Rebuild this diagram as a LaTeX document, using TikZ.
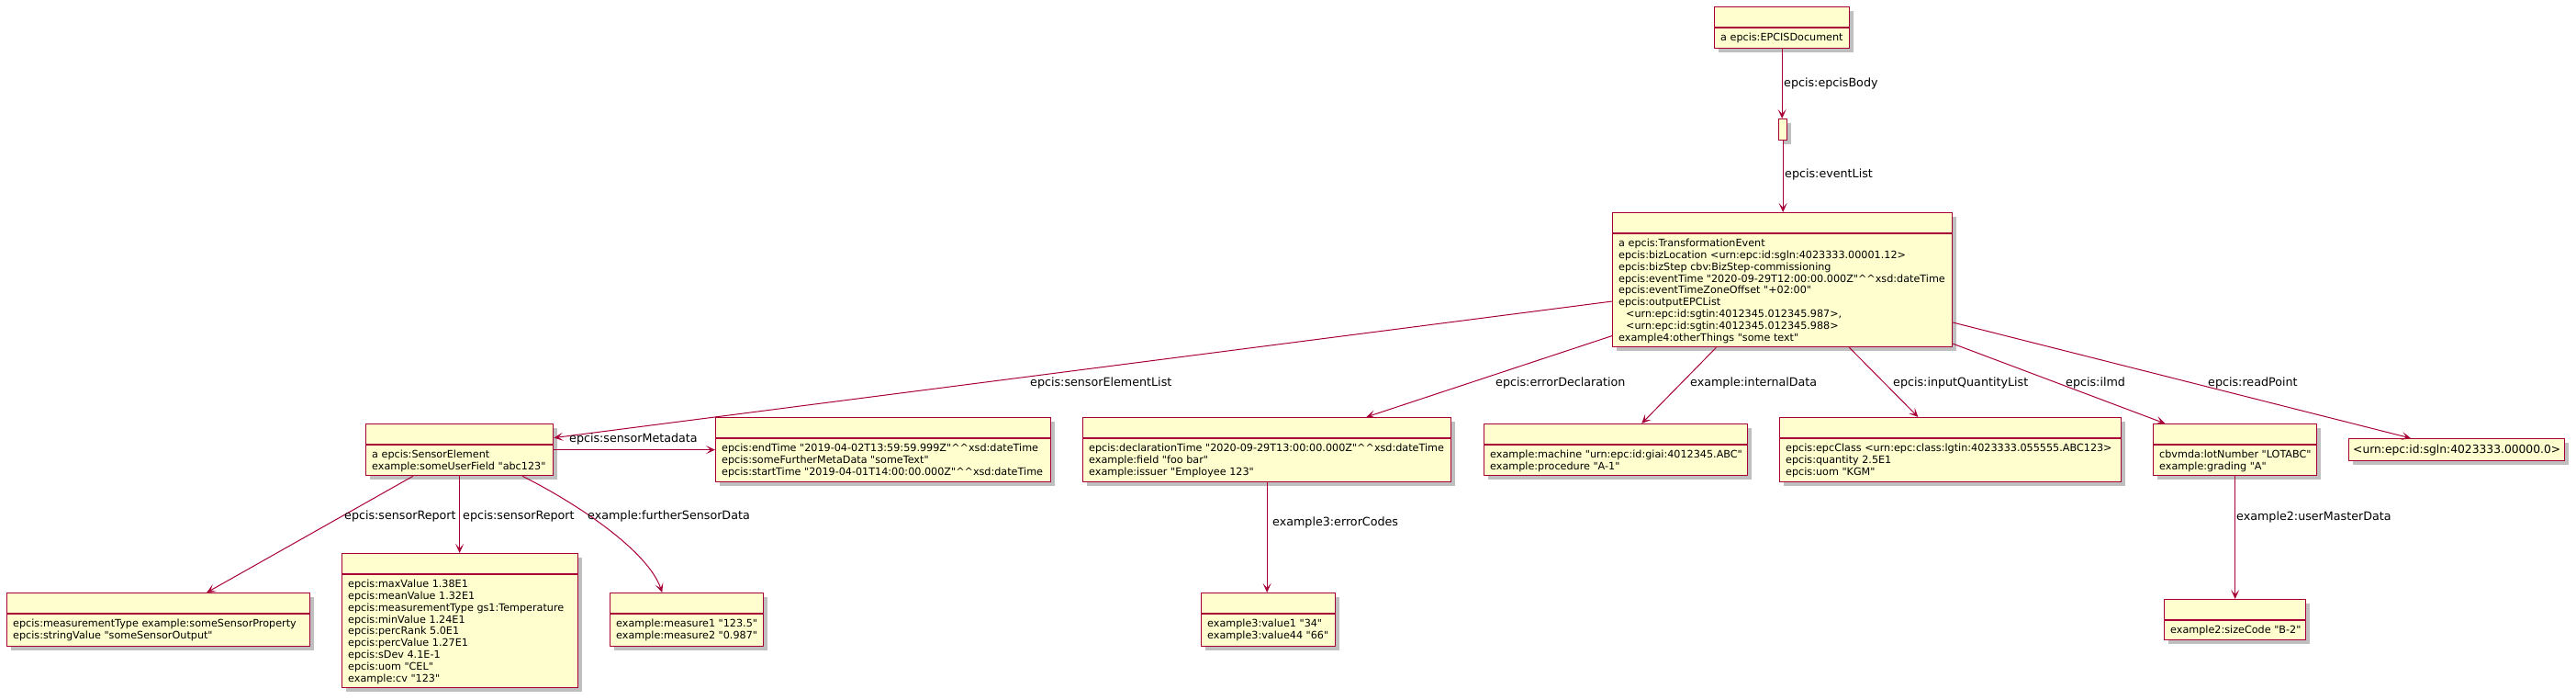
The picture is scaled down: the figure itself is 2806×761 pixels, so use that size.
\documentclass[tikz,border=0pt]{standalone}
\usepackage{fontspec}
\newfontfamily\dv{DejaVu Sans}
\usetikzlibrary{arrows.meta,shadows,calc}
\definecolor{pfill}{HTML}{FEFECE}
\definecolor{pbord}{HTML}{A80036}
\newcommand\cc{\textasciicircum\textasciicircum}
% name, x1, y1, x2, y2, text
\newcommand\objbox[6]{%
  \pgfmathsetmacro\bw{#4-#2}%
  \pgfmathsetmacro\bh{#5-#3}%
  \node[obj, minimum width=\bw pt, minimum height=\bh pt, anchor=north west] (#1) at (#2,#3) {};
  \draw[divline] (#2,#3+23) -- (#4,#3+23);
  \node[memb] (#1-t) at (#2+7,#3+23+4.5) {\rule{0pt}{10pt}#6};
}
\begin{document}
\begin{tikzpicture}[x=1pt,y=-1pt,
  obj/.style={draw=pbord, fill=pfill, line width=1.3pt, inner sep=0pt,
    drop shadow={shadow xshift=4pt, shadow yshift=-4pt, opacity=0.25, fill=black}},
  divline/.style={draw=pbord, line width=1.3pt},
  memb/.style={font=\dv\fontsize{11.2}{12.8}\selectfont, align=left, inner sep=0pt, anchor=north west},
  elabel/.style={font=\dv\fontsize{12.7}{15}\selectfont, inner sep=0pt, anchor=west},
  edge/.style={draw=pbord, line width=1pt, -{Stealth[length=10pt,width=9pt,inset=5pt]}}
]
\fill[white] (0,0) rectangle (2806,761);
\useasboundingbox (0,0) rectangle (2806,761);

% boxes
\objbox{doc}{1867}{7}{2014}{52}{a epcis:EPCISDocument}
\node[obj, minimum width=9pt, minimum height=23pt, anchor=north west] (body) at (1937,129) {};
\objbox{te}{1756}{231}{2126}{377}{a epcis:TransformationEvent\\
epcis:bizLocation <urn:epc:id:sgln:4023333.00001.12>\\
epcis:bizStep cbv:BizStep-commissioning\\
epcis:eventTime "2020-09-29T12:00:00.000Z"\cc xsd:dateTime\\
epcis:eventTimeZoneOffset "+02:00"\\
epcis:outputEPCList\\
\hspace*{8pt}<urn:epc:id:sgtin:4012345.012345.987>,\\
\hspace*{8pt}<urn:epc:id:sgtin:4012345.012345.988>\\
example4:otherThings "some text"}
\objbox{se}{398}{461}{602}{517}{a epcis:SensorElement\\example:someUserField "abc123"}
\objbox{sm}{779}{454}{1144}{524}{epcis:endTime "2019-04-02T13:59:59.999Z"\cc xsd:dateTime\\
epcis:someFurtherMetaData "someText"\\
epcis:startTime "2019-04-01T14:00:00.000Z"\cc xsd:dateTime}
\objbox{ed}{1179}{454}{1580}{524}{epcis:declarationTime "2020-09-29T13:00:00.000Z"\cc xsd:dateTime\\
example:field "foo bar"\\
example:issuer "Employee 123"}
\objbox{id}{1616}{461}{1903}{517}{example:machine "urn:epc:id:giai:4012345.ABC"\\example:procedure "A-1"}
\objbox{iq}{1938}{454}{2310}{524}{epcis:epcClass <urn:epc:class:lgtin:4023333.055555.ABC123>\\
epcis:quantity 2.5E1\\
epcis:uom "KGM"}
\objbox{lmd}{2345}{461}{2523}{517}{cbvmda:lotNumber "LOTABC"\\example:grading "A"}
\node[obj, font=\dv\fontsize{12.3}{14}\selectfont, minimum width=235pt, minimum height=24pt, anchor=north west] (rp) at (2558,477) {<urn:epc:id:sgln:4023333.00000.0>};
\objbox{mt}{7}{645}{337}{703}{epcis:measurementType example:someSensorProperty\\epcis:stringValue "someSensorOutput"}
\objbox{sr}{372}{602}{629}{748}{epcis:maxValue 1.38E1\\
epcis:meanValue 1.32E1\\
epcis:measurementType gs1:Temperature\\
epcis:minValue 1.24E1\\
epcis:percRank 5.0E1\\
epcis:percValue 1.27E1\\
epcis:sDev 4.1E-1\\
epcis:uom "CEL"\\
example:cv "123"}
\objbox{ms}{664}{645}{831}{703}{example:measure1 "123.5"\\example:measure2 "0.987"}
\objbox{ec}{1308}{645}{1454}{703}{example3:value1 "34"\\example3:value44 "66"}
\objbox{sc}{2357}{652}{2511}{696}{example2:sizeCode "B-2"}

% connectors
\draw[edge] (doc.south) -- (doc.south |- body.north);
\draw[edge] (body.south) -- (body.south |- te.north);
\draw[edge] (te) -- (se);
\draw[edge] (se) -- (sm);
\draw[edge] (te) -- (ed);
\draw[edge] (te) -- (id);
\draw[edge] (te) -- (iq);
\draw[edge] (te) -- (lmd);
\draw[edge] (te) -- (rp);
\draw[edge] (se) -- (mt);
\draw[edge] (se.south) -- (se.south |- sr.north);
\draw[edge] ($(se.south west)!0.833!(se.south east)$) .. controls +(60,30) and +(-15,-45) .. ($(ms.north west)!0.34!(ms.north east)$);
\draw[edge] (ed.south) -- (ed.south |- ec.north);
\draw[edge] (lmd.south) -- (lmd.south |- sc.north);

% labels
\node[elabel] (lbody) at (1943,91) {epcis:epcisBody};
\node[elabel] (llist) at (1944,190) {epcis:eventList};
\node[elabel] (lsel) at (1122,417) {epcis:sensorElementList};
\node[elabel] (led) at (1629,417) {epcis:errorDeclaration};
\node[elabel] (lid) at (1841,417) {example:internalData};
\node[elabel] (liq) at (2062,417) {epcis:inputQuantityList};
\node[elabel] (lilmd) at (2250,417) {epcis:ilmd};
\node[elabel] (lrp) at (2405,417) {epcis:readPoint};
\node[elabel] (lsm) at (620,478) {epcis:sensorMetadata};
\node[elabel] (lsr1) at (375,562) {epcis:sensorReport};
\node[elabel] (lsr2) at (504,562) {epcis:sensorReport};
\node[elabel] (lfsd) at (640,562) {example:furtherSensorData};
\node[elabel] (lec) at (1386,569) {example3:errorCodes};
\node[elabel] (lumd) at (2436,563) {example2:userMasterData};
\end{tikzpicture}
\end{document}
